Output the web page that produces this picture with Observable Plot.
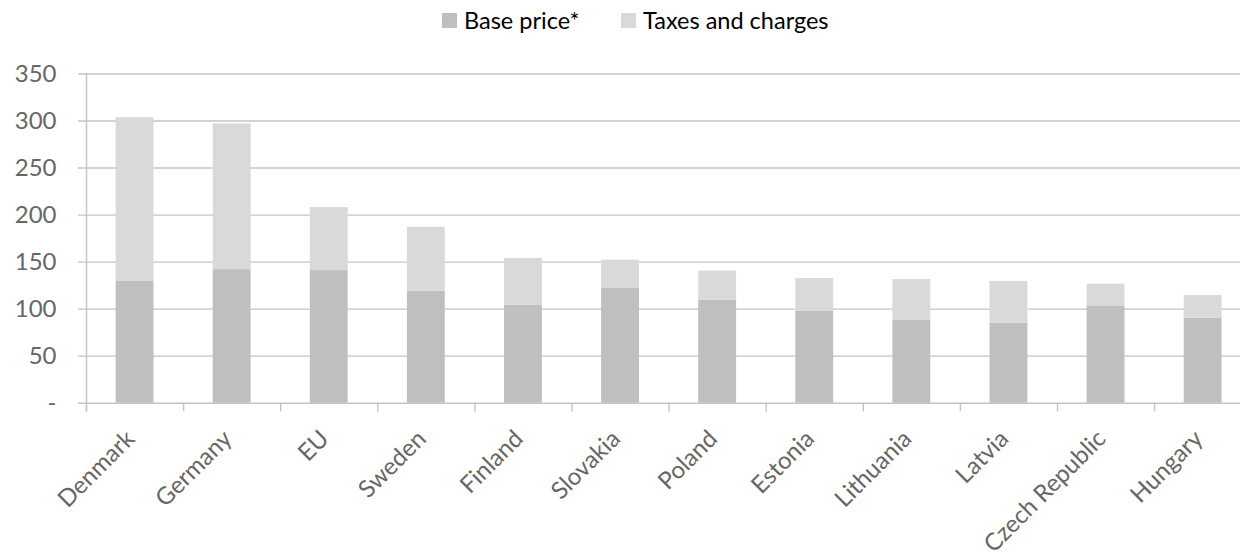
<!DOCTYPE html>
<html><head><meta charset="utf-8">
<script src="https://cdn.jsdelivr.net/npm/d3@7"></script>
<script src="https://cdn.jsdelivr.net/npm/@observablehq/plot@0.6"></script>
<style>
html,body{margin:0;padding:0;background:#fff;overflow:hidden;}
#wrap{position:relative;width:1240px;height:553px;font-family:Lato,sans-serif;}
#legend{position:relative;height:45px;}
.item{position:absolute;top:7px;height:26px;display:flex;align-items:center;font-size:23.5px;color:#000;white-space:nowrap;}
.sw{width:15px;height:15px;margin-right:7px;}
</style></head><body>
<div id="wrap"><div id="legend"></div><div id="chart"></div></div>
<script>
const countries = ["Denmark","Germany","EU","Sweden","Finland","Slovakia","Poland","Estonia","Lithuania","Latvia","Czech Republic","Hungary"];
const basePrice = [130, 142, 141, 119, 104, 122, 109.5, 98, 88, 85, 103.5, 90.5];
const taxes = [173.5, 155, 67, 68, 50, 30, 31, 34.5, 43.5, 44.5, 23, 24];
const seriesNames = ["Base price*", "Taxes and charges"];
const seriesColors = ["#bfbfbf", "#d9d9d9"];
const yTicks = [0, 50, 100, 150, 200, 250, 300, 350];

const data = [];
countries.forEach((c, i) => {
  data.push({country: c, series: seriesNames[0], value: basePrice[i]});
  data.push({country: c, series: seriesNames[1], value: taxes[i]});
});

// legend
const legend = document.getElementById("legend");
const lefts = [442, 621];
seriesNames.forEach((s, i) => {
  const it = document.createElement("div");
  it.className = "item";
  it.style.left = lefts[i] + "px";
  const sw = document.createElement("div");
  sw.className = "sw";
  sw.style.background = seriesColors[i];
  const t = document.createElement("span");
  t.textContent = s;
  it.appendChild(sw); it.appendChild(t);
  legend.appendChild(it);
});

const x0 = 86, step = 97.1;
const x1 = x0 + step * countries.length;
const grid = "#c4c4c4";

const chart = Plot.plot({
  width: 1240, height: 508,
  marginLeft: 86, marginRight: 0, marginTop: 28.5, marginBottom: 150.3,
  style: {fontFamily: "Lato, sans-serif", background: "transparent", overflow: "hidden"},
  x: {domain: countries, range: [x0, x1], paddingInner: 0.61, paddingOuter: 0.305, align: 0.5, round: false, axis: null},
  y: {domain: [0, 350], axis: null},
  color: {domain: seriesNames, range: seriesColors},
  marks: [
    Plot.ruleY(yTicks, {stroke: grid, strokeWidth: 1.4, insetLeft: -8}),
    Plot.barY(data, {x: "country", y: "value", fill: "series"}),
    Plot.ruleX([countries[0]], {x: d => d, y1: 350, y2: 0, dx: -step / 2, insetBottom: -8.7, stroke: grid, strokeWidth: 1.4}),
    Plot.ruleX(countries, {x: d => d, y1: 0, y2: 0, dx: -step / 2, insetBottom: -8.7, stroke: grid, strokeWidth: 1.4}),
    Plot.axisY(yTicks, {anchor: "left", label: null, tickSize: 0, tickPadding: 30, tickFormat: d => d === 0 ? "-" : String(d), fontSize: 24, fill: "#666"}),
    Plot.text(countries, {x: d => d, frameAnchor: "bottom", rotate: -45, textAnchor: "end", lineAnchor: "top", dx: -11, dy: 25, fontSize: 24, fill: "#666"})
  ]
});
document.getElementById("chart").appendChild(chart);
</script>
</body></html>
